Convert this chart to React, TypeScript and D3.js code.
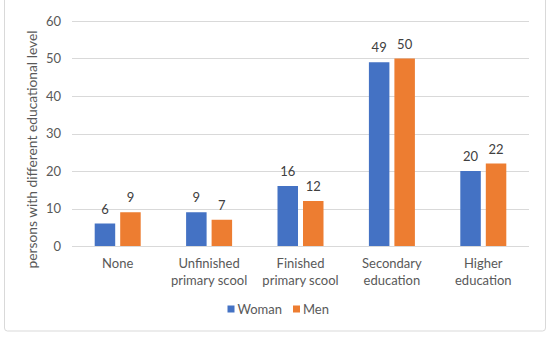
import React, { useEffect, useRef } from 'react';
import * as d3 from 'd3';

// Chart data
const categories = ['None', 'Unfinished primary scool', 'Finished primary scool', 'Secondary education', 'Higher education'];
const categoryLines = [['None'], ['Unfinished', 'primary scool'], ['Finished', 'primary scool'], ['Secondary', 'education'], ['Higher', 'education']];
const womanValues = [6, 9, 16, 49, 20];
const menValues = [9, 7, 12, 50, 22];
const seriesNames = ['Woman', 'Men'];
const yTicks = [0, 10, 20, 30, 40, 50, 60];
const yLabel = 'persons with different educational level';

const COLORS = ['#4472C4', '#ED7D31'];
const TEXT = '#595959';
const FONT = 'Lato, "Noto Sans", sans-serif';

const App = () => {
  const ref = useRef<SVGSVGElement | null>(null);

  useEffect(() => {
    const svg = d3.select(ref.current);
    svg.selectAll('*').remove();

    const left = 72;
    const right = 529;
    const top = 21;
    const bottom = 246;

    // outer frame
    svg.append('rect')
      .attr('x', 4.5).attr('y', -5)
      .attr('width', 541).attr('height', 336)
      .attr('rx', 3)
      .attr('fill', '#fff')
      .attr('stroke', '#d9d9d9');

    const x = d3.scaleBand<string>().domain(categories).range([left, right]);
    const y = d3.scaleLinear().domain([0, 60]).range([bottom, top]);

    // gridlines
    svg.append('g')
      .selectAll('line')
      .data(yTicks)
      .enter()
      .append('line')
      .attr('x1', left).attr('x2', right)
      .attr('y1', d => Math.round(y(d)) + 0.5)
      .attr('y2', d => Math.round(y(d)) + 0.5)
      .attr('stroke', '#d9d9d9')
      .attr('stroke-width', 1);

    // y tick labels
    svg.append('g')
      .selectAll('text')
      .data(yTicks)
      .enter()
      .append('text')
      .attr('x', 61)
      .attr('y', d => y(d))
      .attr('dy', '0.35em')
      .attr('text-anchor', 'end')
      .attr('font-family', FONT)
      .attr('font-size', 13)
      .attr('fill', TEXT)
      .text(d => d);

    // y axis title
    svg.append('text')
      .attr('transform', `translate(37,${(top + bottom) / 2 + 16}) rotate(-90)`)
      .attr('text-anchor', 'middle')
      .attr('font-family', FONT)
      .attr('font-size', 13.8)
      .attr('fill', TEXT)
      .text(yLabel);

    const barW = 20.5;
    const gap = 5;
    const series = [womanValues, menValues];

    series.forEach((vals, si) => {
      const g = svg.append('g');
      const bx = (i: number) => {
        const c = (x(categories[i]) as number) + x.bandwidth() / 2;
        return si === 0 ? c - gap / 2 - barW : c + gap / 2;
      };
      g.selectAll('rect')
        .data(vals)
        .enter()
        .append('rect')
        .attr('x', (d, i) => bx(i))
        .attr('y', d => y(d))
        .attr('width', barW)
        .attr('height', d => y(0) - y(d))
        .attr('fill', COLORS[si]);

      // data labels
      g.selectAll('text')
        .data(vals)
        .enter()
        .append('text')
        .attr('x', (d, i) => bx(i) + barW / 2)
        .attr('y', d => y(d) - 10)
        .attr('text-anchor', 'middle')
        .attr('font-family', FONT)
        .attr('font-size', 13)
        .attr('fill', '#404040')
        .text(d => d);
    });

    // category labels
    categoryLines.forEach((lines, i) => {
      const c = (x(categories[i]) as number) + x.bandwidth() / 2;
      lines.forEach((ln, li) => {
        svg.append('text')
          .attr('x', c)
          .attr('y', 268 + li * 16.5)
          .attr('text-anchor', 'middle')
          .attr('font-family', FONT)
          .attr('font-size', 13)
          .attr('fill', TEXT)
          .text(ln);
      });
    });

    // legend
    const legendX = [227.5, 293];
    seriesNames.forEach((name, i) => {
      svg.append('rect')
        .attr('x', legendX[i]).attr('y', 305.5)
        .attr('width', 7).attr('height', 7)
        .attr('fill', COLORS[i]);
      svg.append('text')
        .attr('x', legendX[i] + 10)
        .attr('y', 309)
        .attr('dy', '0.35em')
        .attr('font-family', FONT)
        .attr('font-size', 13)
        .attr('fill', TEXT)
        .text(name);
    });
  }, []);

  return (
    <svg
      ref={ref}
      width={550}
      height={337}
      style={{ position: 'absolute', left: 0, top: 0, background: '#fff' }}
    />
  );
};

export default App;
